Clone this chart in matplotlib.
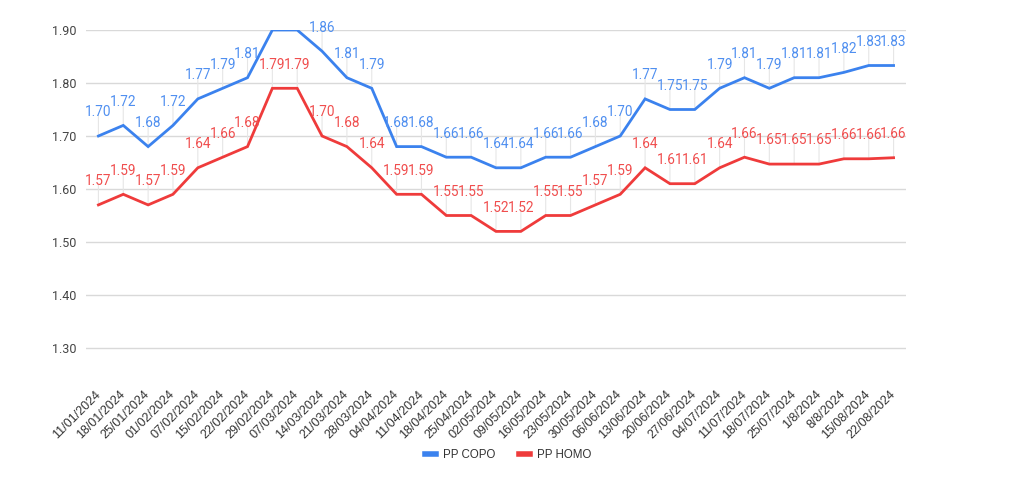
import matplotlib
matplotlib.use("Agg")
import matplotlib.pyplot as plt

dates = ["11/01/2024", "18/01/2024", "25/01/2024", "01/02/2024", "07/02/2024", "15/02/2024",
         "22/02/2024", "29/02/2024", "07/03/2024", "14/03/2024", "21/03/2024", "28/03/2024",
         "04/04/2024", "11/04/2024", "18/04/2024", "25/04/2024", "02/05/2024", "09/05/2024",
         "16/05/2024", "23/05/2024", "30/05/2024", "06/06/2024", "13/06/2024", "20/06/2024",
         "27/06/2024", "04/07/2024", "11/07/2024", "18/07/2024", "25/07/2024", "1/8/2024",
         "8/8/2024", "15/08/2024", "22/08/2024"]
pp_copo = [1.70, 1.72, 1.68, 1.72, 1.77, 1.79, 1.81, 1.90, 1.90, 1.86, 1.81, 1.79,
           1.68, 1.68, 1.66, 1.66, 1.64, 1.64, 1.66, 1.66, 1.68, 1.70, 1.77, 1.75,
           1.75, 1.79, 1.81, 1.79, 1.81, 1.81, 1.82, 1.833, 1.833]
pp_homo = [1.57, 1.59, 1.57, 1.59, 1.64, 1.66, 1.68, 1.79, 1.79, 1.70, 1.68, 1.64,
           1.59, 1.59, 1.55, 1.55, 1.52, 1.52, 1.55, 1.55, 1.57, 1.59, 1.64, 1.61,
           1.61, 1.64, 1.66, 1.647, 1.647, 1.647, 1.657, 1.657, 1.659]
y_ticks = [1.30, 1.40, 1.50, 1.60, 1.70, 1.80, 1.90]

series = [("PP COPO", pp_copo, "#3b82ee", "#4f8ff0"),
          ("PP HOMO", pp_homo, "#ef3b3b", "#f04e4e")]

plt.rcParams['font.family'] = ['Roboto', 'DejaVu Sans']

fig = plt.figure(figsize=(10.13, 5.0), dpi=100)
ax = fig.add_axes([86/1013, 1-374.5/500, (906-86)/1013, (374.5-30)/500])

x = list(range(len(dates)))
ymin, ymax = 1.25, 1.90
ax.set_xlim(-0.5, len(dates)-0.5)
ax.set_ylim(ymin, ymax)

for name, vals, col, tcol in series:
    ax.plot(x, vals, color=col, lw=2, label=name, zorder=3, solid_joinstyle='miter')
    for xi, v in zip(x, vals):
        if v >= ymax - 1e-9:
            continue
        ax.annotate("", xy=(xi, v), xytext=(0, 15), textcoords='offset points',
                    arrowprops=dict(arrowstyle='-', color='#e6e6e6', lw=0.8,
                                    shrinkA=0, shrinkB=0), zorder=1)
        ax.annotate(f"{v:.2f}", xy=(xi, v), xytext=(0, 17), textcoords='offset points',
                    ha='center', va='center', fontsize=9.8, color=tcol, zorder=4)

ax.set_yticks(y_ticks)
ax.set_yticklabels([f"{t:.2f}" for t in y_ticks])
ax.grid(axis='y', color='#d9d9d9', lw=1)
ax.set_axisbelow(True)
for s in ax.spines.values():
    s.set_visible(False)
ax.tick_params(axis='y', length=0, pad=7, labelsize=9, labelcolor='#444444')
ax.set_xticks(x)
ax.set_xticklabels(dates, rotation=45, ha='right', va='center', rotation_mode='anchor',
                   fontsize=9, color='#333333', family=['Liberation Sans', 'DejaVu Sans'])
ax.tick_params(axis='x', length=0, pad=13)

leg = fig.legend(loc='center', bbox_to_anchor=(508/1013, 1-455/500), ncol=2, frameon=False,
                 handlelength=1.0, handletextpad=0.6, columnspacing=2.0,
                 prop={'size': 8.3, 'family': ['Liberation Sans', 'DejaVu Sans']})
for line in leg.get_lines():
    line.set_linewidth(4)
for t in leg.get_texts():
    t.set_color('#333333')

fig.savefig("out.png", dpi=100)
